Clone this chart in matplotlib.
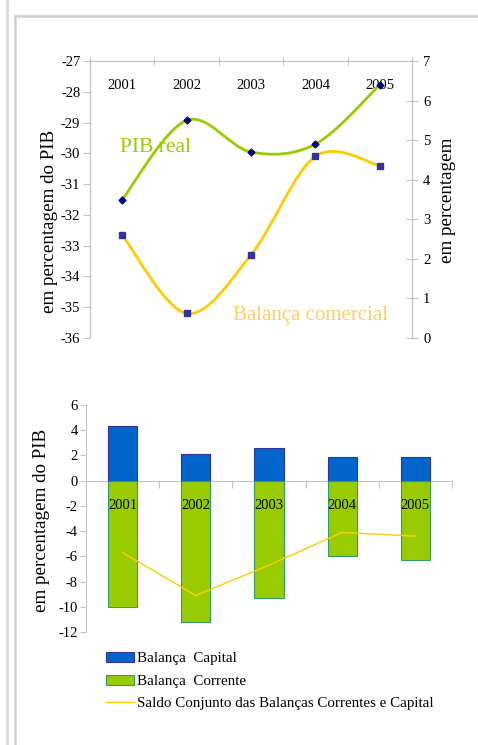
import numpy as np
import matplotlib
matplotlib.use('Agg')
import matplotlib.pyplot as plt
from matplotlib.path import Path
from matplotlib.patches import PathPatch
from matplotlib.lines import Line2D

plt.rcParams['font.family'] = ['Liberation Serif', 'DejaVu Serif']

# top chart data
anos = ['2001', '2002', '2003', '2004', '2005']
pib_real = [3.5, 5.5, 4.7, 4.9, 6.4]                       # right axis, em percentagem
balanca_comercial = [-32.65, -35.2, -33.3, -30.1, -30.4]   # left axis, % do PIB

# bottom chart data
balanca_capital = [4.3, 2.1, 2.6, 1.9, 1.9]
balanca_corrente = [-10.0, -11.2, -9.3, -6.0, -6.3]
saldo_conjunto = [-5.7, -9.1, -6.7, -4.1, -4.4]

GRID = '#c4c4c4'


def smooth_path(xs, ys):
    # bezier path through the points (catmull-rom style, like excel smoothed lines)
    pts = np.column_stack([xs, ys]).astype(float)
    n = len(pts)
    verts = [pts[0]]
    codes = [Path.MOVETO]
    for i in range(n - 1):
        p0 = pts[i - 1] if i > 0 else pts[i]
        p1 = pts[i]
        p2 = pts[i + 1]
        p3 = pts[i + 2] if i + 2 < n else pts[i + 1]
        c1 = p1 + (p2 - p0) / 6.0
        c2 = p2 - (p3 - p1) / 6.0
        verts += [c1, c2, p2]
        codes += [Path.CURVE4] * 3
    return Path(verts, codes)


fig = plt.figure(figsize=(4.78, 7.45), dpi=100)

# frame lines around the page
fig.add_artist(Line2D([6.5 / 478, 6.5 / 478], [0, 1], color='#d6d6d6', lw=1.8))
fig.add_artist(Line2D([14.5 / 478, 14.5 / 478], [0, 1 - 16 / 745], color='#d0d0d0', lw=1.8))
fig.add_artist(Line2D([14.5 / 478, 477 / 478], [1 - 16 / 745, 1 - 16 / 745], color='#d0d0d0', lw=1.8))

x = np.arange(len(anos))

# ---------------- top chart ----------------
ax = fig.add_axes([90 / 478, 1 - 338 / 745, 322 / 478, 277 / 745])
ax2 = ax.twinx()

ax.set_xlim(-0.5, 4.5)
ax.set_ylim(-36, -27)
ax2.set_ylim(0, 7)

ax.add_patch(PathPatch(smooth_path(x, balanca_comercial), fill=False,
                       edgecolor='#ffcc00', lw=2.0, zorder=2))
ax.plot(x, balanca_comercial, ls='none', marker='s', ms=5, color='#333399', zorder=3)

ax2.add_patch(PathPatch(smooth_path(x, pib_real), fill=False,
                        edgecolor='#99cc00', lw=2.0, zorder=2))
ax2.plot(x, pib_real, ls='none', marker='D', ms=3.5, color='#000080', zorder=3)

for a in (ax, ax2):
    for s in a.spines.values():
        s.set_color(GRID)
    a.spines['bottom'].set_visible(False)

ax.set_yticks(np.arange(-36, -26, 1))
ax.set_yticklabels([str(v) for v in range(-36, -26)])
ax.tick_params(axis='y', direction='out', length=5, color=GRID, labelsize=10.5, pad=2)
ax2.set_yticks(np.arange(0, 8, 1))
ax2.tick_params(axis='y', direction='inout', length=8, color=GRID, labelsize=10.5, pad=4)

ax.xaxis.tick_top()
ax.set_xticks(np.arange(-0.5, 5, 1))
ax.set_xticklabels([])
ax.set_xticks(x, minor=True)
ax.set_xticklabels(anos, minor=True)
ax.tick_params(axis='x', which='major', direction='inout', length=6, color=GRID)
ax.tick_params(axis='x', which='minor', length=0, labelsize=10.5, pad=-22)

ax.text(-0.04, 4.82, 'PIB real', transform=ax2.transData, color='#99cc00',
        fontsize=15.5, va='center', ha='left')
ax.text(1.72, 0.58, 'Balança comercial', transform=ax2.transData, color='#ffcc66',
        fontsize=15, va='center', ha='left')

fig.text(50 / 478, 1 - 221 / 745, 'em percentagem do PIB', rotation=90,
         ha='center', va='center', fontsize=13.7)
fig.text(447 / 478, 1 - 200 / 745, 'em percentagem', rotation=90,
         ha='center', va='center', fontsize=13.7)

# ---------------- bottom chart ----------------
bx = fig.add_axes([86 / 478, 1 - 632 / 745, 366 / 478, 227 / 745])
bx.set_xlim(-0.5, 4.5)
bx.set_ylim(-12, 6)
bx.set_axisbelow(False)

h1 = bx.bar(x, balanca_capital, width=0.4, color='#0066cc', edgecolor='#333399',
            lw=0.8, label='Balança  Capital', zorder=2)
h2 = bx.bar(x, balanca_corrente, width=0.4, color='#99cc00', edgecolor='#339966',
            lw=0.8, label='Balança  Corrente', zorder=2)
h3, = bx.plot(x, saldo_conjunto, color='#ffcc00', lw=1.0,
              label='Saldo Conjunto das Balanças Correntes e Capital', zorder=3)

for s in ['top', 'right']:
    bx.spines[s].set_visible(False)
bx.spines['left'].set_color(GRID)
bx.spines['bottom'].set_color(GRID)
bx.spines['bottom'].set_position(('data', 0))
bx.spines['bottom'].set_zorder(1)

bx.set_yticks(np.arange(-12, 7, 2))
bx.set_yticklabels([str(v) for v in range(-12, 7, 2)])
bx.tick_params(axis='y', direction='out', length=4, color=GRID, labelsize=10.5, pad=2)
bx.set_xticks(np.arange(-0.5, 5, 1))
bx.set_xticklabels([])
bx.set_xticks(x, minor=True)
bx.set_xticklabels(anos, minor=True)
bx.tick_params(axis='x', which='major', direction='out', length=5, color=GRID)
bx.tick_params(axis='x', which='minor', length=0, labelsize=10.5, pad=13)

fig.text(42 / 478, 1 - 520 / 745, 'em percentagem do PIB', rotation=90,
         ha='center', va='center', fontsize=13.7)

bx.legend(handles=[h1, h2, h3], loc='upper left',
          bbox_to_anchor=(106 / 478, 1 - 652 / 745),
          bbox_transform=fig.transFigure, frameon=False, fontsize=10.8,
          handlelength=1.85, handleheight=0.65, labelspacing=0.62,
          handletextpad=0.2, borderaxespad=0, borderpad=0)

fig.savefig('out.png', dpi=100)
